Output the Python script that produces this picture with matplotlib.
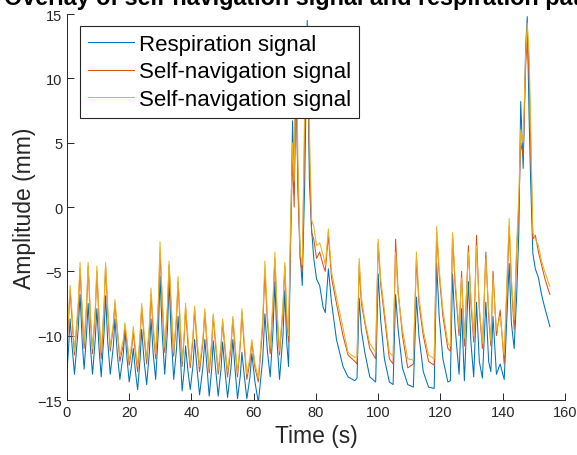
import matplotlib
matplotlib.use('Agg')
import matplotlib.pyplot as plt

plt.rcParams['font.family'] = ['Liberation Sans', 'DejaVu Sans']

# Key points (time in s, amplitude in mm)
time = [
    0.0, 0.5, 1.0, 1.7, 2.4, 3.6, 4.2, 4.9, 5.5, 6.3, 6.8, 7.5, 8.2,
    9.1, 9.6, 10.3, 11.0, 11.9, 12.4, 13.1, 13.9, 14.9, 15.4, 16.2, 17.0,
    18.1, 18.6, 19.3, 20.0, 20.8, 21.3, 22.0, 22.7, 23.5, 24.0, 24.8, 25.6,
    26.5, 27.0, 27.7, 28.5, 29.4, 29.9, 30.6, 31.4, 32.3, 32.8, 33.5, 34.3,
    35.2, 35.7, 36.4, 37.0, 37.7, 38.1, 38.9, 39.6, 40.5, 41.0, 41.8, 42.6,
    43.7, 44.3, 45.0, 45.7, 46.5, 47.0, 47.8, 48.6, 49.5, 50.0, 50.8, 51.6,
    52.7, 53.3, 54.0, 54.8, 55.7, 56.2, 57.0, 57.8, 58.8, 59.4, 60.4, 61.5,
    62.9, 63.6, 64.4, 65.3, 66.2, 66.8, 67.5, 68.3, 69.4, 70.0, 70.6, 71.2,
    71.8, 72.5, 73.0, 73.6, 74.2, 74.9, 75.6, 76.4, 77.2, 77.9,
    78.6, 79.3, 80.2, 81.2, 82.3, 83.0, 84.0, 85.0, 86.6, 88.7,
    90.3, 92.5, 93.2, 93.9, 94.6, 95.7, 97.3, 99.2, 100.0, 100.8,
    102.0, 103.6, 104.8, 105.6, 106.4, 107.8, 109.5, 111.3, 112.3, 113.1,
    114.5, 116.2, 118.0, 118.8, 119.6, 120.8, 122.4, 123.2, 123.9, 124.7,
    126.0, 126.8, 127.7, 129.0, 129.8, 130.7, 131.6, 132.5, 133.5, 134.6,
    135.5, 136.2, 136.9, 138.0, 139.2, 140.5, 142.1, 142.8, 143.7, 144.5,
    145.2, 145.8, 146.6, 147.4, 147.9, 148.5, 149.0, 149.7, 150.5, 151.5,
    152.5, 153.5, 154.5, 155.2,
]
respiration = [
    -12.8, -11.0, -8.7, -11.0, -13.0, -9.5, -6.8, -10.5, -12.6, -9.8, -7.5, -10.8, -13.0,
    -10.2, -7.9, -11.0, -13.2, -9.8, -6.9, -10.5, -13.0, -10.8, -8.7, -11.5, -13.4,
    -11.4, -9.5, -11.8, -13.6, -12.2, -11.0, -12.8, -14.2, -11.8, -9.5, -12.0, -13.8,
    -11.2, -8.7, -11.4, -13.4, -9.5, -5.4, -9.8, -13.0, -9.5, -5.7, -10.0, -13.4,
    -11.0, -8.5, -11.5, -14.3, -12.6, -10.8, -12.8, -14.2, -12.3, -10.3, -12.6, -14.6,
    -12.4, -10.3, -12.5, -14.7, -12.6, -10.4, -12.7, -14.7, -12.6, -10.5, -12.8, -14.8,
    -12.5, -10.3, -12.6, -14.9, -13.1, -11.3, -13.2, -14.9, -13.2, -11.4, -13.6, -15.2,
    -11.8, -8.3, -11.2, -13.2, -9.6, -5.8, -10.5, -13.4, -10.0, -6.5, -10.5, -12.4,
    -3.5, 6.7, 1.0, 10.0, 2.0, -3.5, -6.1, 2.0, 14.5, 2.0,
    -1.7, -4.0, -5.6, -6.1, -7.8, -8.2, -4.8, -7.4, -10.3, -12.4,
    -13.2, -13.5, -13.3, -7.1, -9.6, -11.3, -13.2, -13.6, -5.2, -8.8,
    -11.8, -13.6, -13.8, -6.8, -9.5, -12.5, -13.8, -14.0, -7.0, -10.0,
    -12.8, -14.0, -14.1, -4.4, -8.5, -11.8, -13.6, -13.5, -5.2, -9.3,
    -13.0, -7.9, -13.5, -5.8, -10.5, -13.2, -7.4, -12.0, -13.3, -7.4,
    -12.0, -12.8, -8.5, -13.0, -12.2, -13.4, -4.4, -9.0, -11.0, -6.9,
    -2.0, 8.2, 3.0, 12.5, 14.8, 7.0, 2.0, -3.6, -4.8, -5.5,
    -6.8, -7.8, -8.7, -9.3,
]
nav_a = [
    -11.0, -8.8, -6.5, -9.0, -11.5, -8.0, -4.8, -8.5, -11.0, -7.8, -4.6, -8.6, -11.4,
    -8.2, -5.0, -9.0, -11.8, -8.0, -4.6, -8.2, -11.2, -9.3, -7.5, -9.8, -12.0,
    -10.7, -9.4, -10.6, -12.3, -11.0, -9.7, -11.4, -12.8, -10.2, -7.8, -10.2, -12.2,
    -9.5, -6.8, -9.6, -11.8, -7.5, -3.5, -7.5, -11.3, -7.9, -4.5, -8.0, -11.6,
    -8.7, -5.8, -9.5, -12.4, -10.0, -7.8, -10.8, -12.5, -10.2, -8.0, -10.8, -12.8,
    -10.5, -8.2, -10.8, -12.9, -10.7, -8.5, -10.9, -13.0, -11.0, -8.9, -11.2, -13.2,
    -10.9, -8.7, -11.0, -13.2, -10.7, -8.2, -11.0, -13.4, -12.0, -10.5, -12.5, -13.6,
    -9.3, -5.0, -9.0, -11.4, -7.7, -4.0, -8.5, -11.5, -8.0, -4.6, -8.8, -10.5,
    -3.0, 4.0, 0.0, 11.0, 1.5, -4.0, -5.0, 6.0, 12.0, 4.0,
    -2.0, -2.5, -4.0, -3.5, -4.5, -5.0, -2.2, -5.5, -7.5, -10.0,
    -11.5, -12.0, -12.2, -4.5, -7.5, -9.0, -11.0, -11.8, -2.8, -6.0,
    -8.5, -11.8, -12.2, -2.5, -6.5, -10.0, -12.5, -12.2, -4.0, -7.5,
    -10.0, -12.0, -12.3, -2.0, -5.2, -8.5, -11.0, -11.2, -2.2, -6.0,
    -10.0, -5.0, -10.8, -3.0, -7.5, -10.5, -2.2, -8.0, -11.0, -3.5,
    -8.5, -10.8, -5.0, -10.0, -8.0, -12.2, -1.5, -6.0, -9.5, -3.5,
    0.0, 5.0, 4.0, 11.0, 13.0, 10.3, 5.0, -2.5, -2.2, -3.5,
    -4.5, -5.5, -6.3, -6.8,
]
nav_b = [
    -10.5, -8.3, -6.1, -8.5, -11.2, -7.5, -4.3, -8.0, -10.6, -7.4, -4.3, -8.2, -11.0,
    -7.8, -4.6, -8.4, -11.3, -7.6, -4.3, -7.8, -10.9, -9.0, -7.2, -9.5, -11.6,
    -10.3, -9.0, -10.3, -12.0, -10.6, -9.3, -11.0, -12.4, -9.8, -7.5, -9.8, -11.8,
    -9.0, -6.3, -9.1, -11.4, -7.0, -2.7, -7.0, -10.9, -7.5, -4.2, -7.5, -11.3,
    -8.3, -5.4, -9.0, -12.0, -9.7, -7.5, -10.2, -12.2, -9.9, -7.7, -10.3, -12.4,
    -10.1, -7.9, -10.4, -12.6, -10.4, -8.3, -10.5, -12.7, -10.7, -8.7, -10.8, -12.8,
    -10.6, -8.5, -10.6, -12.9, -10.4, -7.9, -10.6, -13.0, -11.7, -10.3, -12.2, -13.3,
    -8.7, -4.2, -8.4, -11.0, -7.2, -3.5, -8.0, -11.2, -7.6, -4.3, -8.2, -10.0,
    -1.7, 5.0, 2.0, 13.5, 4.0, -3.5, -4.5, 8.0, 13.5, 6.0,
    -1.0, -1.5, -3.0, -2.8, -3.7, -4.5, -1.7, -5.0, -7.0, -9.4,
    -11.3, -11.7, -11.6, -4.0, -7.0, -8.8, -10.6, -11.3, -2.5, -5.6,
    -8.0, -11.3, -11.6, -3.5, -6.8, -9.5, -11.8, -11.9, -3.5, -7.0,
    -9.6, -11.5, -11.8, -1.5, -4.8, -8.0, -10.6, -10.8, -2.0, -5.5,
    -9.5, -5.5, -10.2, -3.5, -7.0, -10.0, -3.0, -7.8, -10.6, -4.0,
    -8.0, -10.4, -5.5, -9.6, -8.5, -11.5, -0.9, -5.5, -8.8, -3.0,
    1.0, 6.0, 5.0, 12.0, 14.3, 12.0, 6.5, -2.0, -2.5, -3.0,
    -4.2, -5.0, -5.7, -6.2,
]

x_ticks = [0, 20, 40, 60, 80, 100, 120, 140, 160]
y_ticks = [-15, -10, -5, 0, 5, 10, 15]
labels = ['Respiration signal', 'Self-navigation signal', 'Self-navigation signal']
colors = ['#0072BD', '#D95319', '#EDB120']

fig = plt.figure(figsize=(5.77, 4.56), dpi=100)
ax = fig.add_axes([0.1161, 0.1206, 0.8629, 0.8465])

ax.plot(time, respiration, color=colors[0], lw=0.75, label=labels[0])
ax.plot(time, nav_a, color=colors[1], lw=0.75, label=labels[1])
ax.plot(time, nav_b, color=colors[2], lw=0.75, label=labels[2])

ax.set_xlim(0, 160)
ax.set_ylim(-15, 15)
ax.set_xticks(x_ticks)
ax.set_yticks(y_ticks)
ax.tick_params(direction='in', length=5, width=0.7, colors='#262626',
               labelsize=10.5, labelcolor='#262626')
for side in ['top', 'right']:
    ax.spines[side].set_visible(False)
for side in ['left', 'bottom']:
    ax.spines[side].set_color('#262626')
    ax.spines[side].set_linewidth(0.7)

ax.set_xlabel('Time (s)', fontsize=16.5, color='#262626', labelpad=4)
ax.set_ylabel('Amplitude (mm)', fontsize=16.5, color='#262626', labelpad=1)

leg = ax.legend(loc='upper left', bbox_to_anchor=(0.026, 0.969), borderaxespad=0,
                fontsize=16, handlelength=2.1, handletextpad=0.2,
                labelspacing=0.3, borderpad=0.35, fancybox=False, framealpha=1)
leg.get_frame().set_edgecolor('#262626')
leg.get_frame().set_linewidth(0.8)

fig.text(0.545, 0.99, 'Overlay of self-navigation signal and respiration pattern',
         ha='center', va='baseline', fontsize=16.8, fontweight='bold', color='black')

fig.savefig('out.png', dpi=100)
